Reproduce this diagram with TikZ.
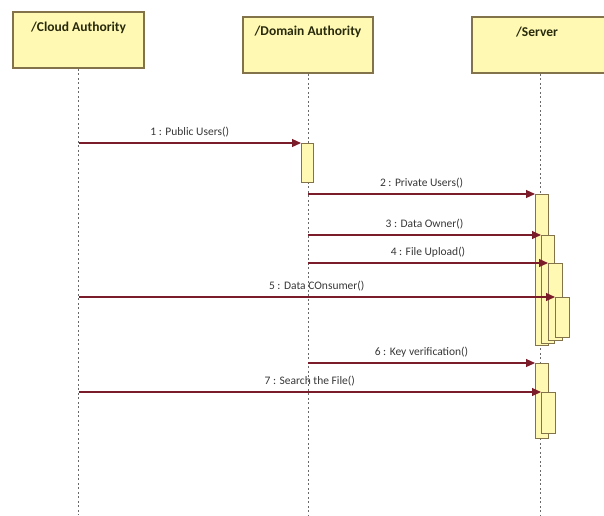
\documentclass[tikz,border=0pt]{standalone}
\usepackage{fontspec}
\setmainfont{Carlito}
\usetikzlibrary{arrows.meta}

\definecolor{boxfill}{RGB}{255,249,180}
\definecolor{boxline}{RGB}{130,115,75}
\definecolor{msgline}{RGB}{122,28,42}
\definecolor{lifeline}{RGB}{105,105,105}
\definecolor{titletext}{RGB}{40,42,12}
\definecolor{msgtext}{RGB}{55,55,55}

\tikzset{
  header/.style={draw=boxline, line width=1.6pt, fill=boxfill, inner sep=0pt,
    minimum width=#1, minimum height=56pt},
  headtitle/.style={font=\bfseries\fontsize{13.5}{15}\selectfont, text=titletext, inner sep=0pt},
  lifeln/.style={draw=lifeline, line width=1pt, dash pattern=on 2pt off 2.5pt},
  actbox/.style={draw=boxline, line width=1pt, fill=boxfill, inner sep=0pt,
    anchor=north west, minimum width=#1},
  msg/.style={draw=msgline, line width=1.1pt, -{Triangle[length=9pt,width=8pt]}},
  msglabel/.style={font=\fontsize{11.5}{13}\selectfont, text=msgtext, inner sep=0pt, anchor=base}
}

\begin{document}
\begin{tikzpicture}[x=1pt, y=-1pt]
\useasboundingbox (0,0) rectangle (604,515);
\clip (0,0) rectangle (604,515);

% object heads
\node[header=131pt] (cloud) at (78.5,40) {};
\node[header=130pt] (dom) at (308,45) {};
\node[header=136pt] (srv) at (540,45) {};
\node[headtitle] (cloudT) at ([yshift=-17pt]cloud.north) {/Cloud Authority};
\node[headtitle] (domT) at ([yshift=-16pt]dom.north) {/Domain Authority};
\node[headtitle] (srvT) at ([yshift=-16pt,xshift=-3pt]srv.north) {/Server};

% lifelines
\coordinate (cloudEnd) at (cloud.south |- 0,515);
\coordinate (domEnd) at (dom.south |- 0,515);
\coordinate (srvEnd) at (srv.south |- 0,515);
\draw[lifeln] (cloud.south) -- (cloudEnd);
\draw[lifeln] (dom.south) -- (domEnd);
\draw[lifeln] (srv.south) -- (srvEnd);

% activation bars
\node[actbox=12pt, minimum height=39pt] (a1) at (301,143) {};
\node[actbox=13pt, minimum height=151pt] (a2) at (535,194) {};
\node[actbox=13pt, minimum height=108pt] (a3) at (541,235) {};
\node[actbox=14pt, minimum height=77pt] (a4) at (548,263) {};
\node[actbox=14pt, minimum height=40pt] (a5) at (555,297) {};
\node[actbox=13pt, minimum height=75pt] (a6) at (535,363) {};
\node[actbox=14pt, minimum height=41pt] (a7) at (541,392) {};

% messages
\draw[msg] (cloud.south |- a1.north west) -- node[msglabel, pos=0.5, yshift=8pt] {1 : Public Users()} (a1.north west);
\draw[msg] (dom.south |- a2.north west) -- node[msglabel, pos=0.5, yshift=8pt] {2 : Private Users()} (a2.north west);
\draw[msg] (dom.south |- a3.north west) -- node[msglabel, pos=0.5, yshift=8pt] {3 : Data Owner()} (a3.north west);
\draw[msg] (dom.south |- a4.north west) -- node[msglabel, pos=0.5, yshift=8pt] {4 : File Upload()} (a4.north west);
\draw[msg] (cloud.south |- a5.north west) -- node[msglabel, pos=0.5, yshift=8pt] {5 : Data COnsumer()} (a5.north west);
\draw[msg] (dom.south |- a6.north west) -- node[msglabel, pos=0.5, yshift=8pt] {6 : Key verification()} (a6.north west);
\draw[msg] (cloud.south |- a7.north west) -- node[msglabel, pos=0.5, yshift=8pt] {7 : Search the File()} (a7.north west);
\end{tikzpicture}
\end{document}
